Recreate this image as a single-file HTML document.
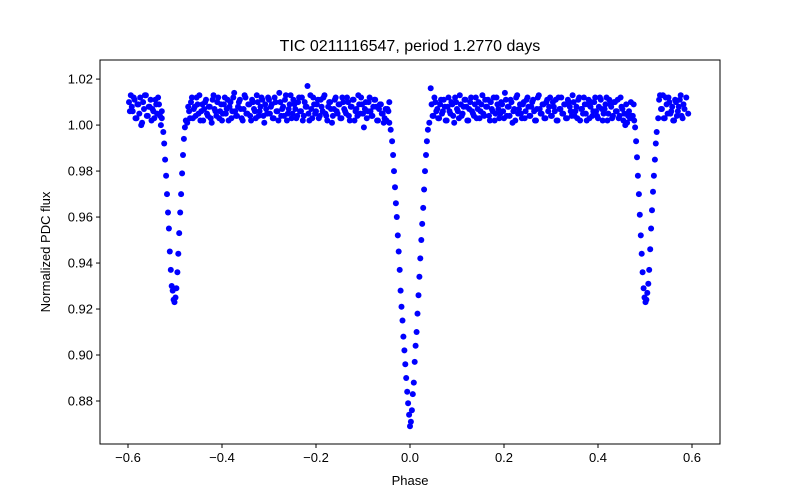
<!DOCTYPE html>
<html><head><meta charset="utf-8"><style>
body{margin:0;background:#fff;}
svg{display:block;font-family:"Liberation Sans","DejaVu Sans",sans-serif;}
</style></head><body>
<svg id="chart" width="800" height="500">
<rect x="0" y="0" width="800" height="500" fill="#fff"/>
<text x="410" y="51" text-anchor="middle" font-size="16">TIC 0211116547, period 1.2770 days</text>
<g id="points"></g>
<rect x="100" y="60" width="620" height="384" fill="none" stroke="#000" stroke-width="1"/>
<g id="xaxis"></g>
<g id="yaxis"></g>
<text x="410" y="485" text-anchor="middle" font-size="13">Phase</text>
<text transform="translate(50,252) rotate(-90)" text-anchor="middle" font-size="13">Normalized PDC flux</text>
</svg>
<script>
const xTicks=[-0.6,-0.4,-0.2,0.0,0.2,0.4,0.6];
const xTickLabels=["−0.6","−0.4","−0.2","0.0","0.2","0.4","0.6"];
const yTicks=[0.88,0.90,0.92,0.94,0.96,0.98,1.00,1.02];
const yTickLabels=["0.88","0.90","0.92","0.94","0.96","0.98","1.00","1.02"];
// out-of-eclipse phases and fluxes
const basePhase=[-0.598,-0.594,-0.590,-0.586,-0.582,-0.578,-0.574,-0.570,-0.566,-0.562,-0.558,-0.554,-0.550,-0.546,-0.542,-0.538,-0.534,-0.530,
-0.474,-0.470,-0.466,-0.462,-0.458,-0.454,-0.450,-0.446,-0.442,-0.438,-0.434,-0.430,-0.426,-0.422,-0.418,-0.414,-0.410,-0.406,-0.402,-0.398,-0.394,-0.390,-0.386,-0.382,-0.378,-0.374,-0.370,-0.366,-0.362,-0.358,-0.354,-0.350,-0.346,-0.342,-0.338,-0.334,-0.330,-0.326,-0.322,-0.318,-0.314,-0.310,-0.306,-0.302,-0.298,-0.294,-0.290,-0.286,-0.282,-0.278,-0.274,-0.270,-0.266,-0.262,-0.258,-0.254,-0.250,-0.246,-0.242,-0.238,-0.234,-0.230,-0.226,-0.222,-0.218,-0.214,-0.210,-0.206,-0.202,-0.198,-0.194,-0.190,-0.186,-0.182,-0.178,-0.174,-0.170,-0.166,-0.162,-0.158,-0.154,-0.150,-0.146,-0.142,-0.138,-0.134,-0.130,-0.126,-0.122,-0.118,-0.114,-0.110,-0.106,-0.102,-0.098,-0.094,-0.090,-0.086,-0.082,-0.078,-0.074,-0.070,-0.066,-0.062,-0.058,-0.054,-0.050,-0.046,
0.046,0.050,0.054,0.058,0.062,0.066,0.070,0.074,0.078,0.082,0.086,0.090,0.094,0.098,0.102,0.106,0.110,0.114,0.118,0.122,0.126,0.130,0.134,0.138,0.142,0.146,0.150,0.154,0.158,0.162,0.166,0.170,0.174,0.178,0.182,0.186,0.190,0.194,0.198,0.202,0.206,0.210,0.214,0.218,0.222,0.226,0.230,0.234,0.238,0.242,0.246,0.250,0.254,0.258,0.262,0.266,0.270,0.274,0.278,0.282,0.286,0.290,0.294,0.298,0.302,0.306,0.310,0.314,0.318,0.322,0.326,0.330,0.334,0.338,0.342,0.346,0.350,0.354,0.358,0.362,0.366,0.370,0.374,0.378,0.382,0.386,0.390,0.394,0.398,0.402,0.406,0.410,0.414,0.418,0.422,0.426,0.430,0.434,0.438,0.442,0.446,0.450,0.454,0.458,0.462,0.466,0.470,0.474,
0.530,0.534,0.538,0.542,0.546,0.550,0.554,0.558,0.562,0.566,0.570,0.574,0.578,0.582,0.586,0.590,0.594,0.598];
const baseFluxA=[1.010,1.013,1.006,1.011,1.003,1.009,1.012,1.001,1.007,1.013,1.004,1.008,1.002,1.006,1.011,1.005,1.009,1.000,
1.001,1.006,1.010,1.003,1.008,1.012,1.005,1.002,1.009,1.007,1.011,1.004,1.008,1.001,1.013,1.006,1.010,1.003,1.009,1.005,1.012,1.007,1.002,1.010,1.006,1.014,1.004,1.008,1.011,1.003,1.007,1.012,1.005,1.009,1.002,1.010,1.006,1.013,1.004,1.008,1.011,1.001,1.007,1.012,1.005,1.009,1.003,1.010,1.006,1.014,1.004,1.008,1.011,1.002,1.007,1.013,1.005,1.009,1.003,1.010,1.006,1.012,1.004,1.008,1.017,1.002,1.007,1.012,1.005,1.009,1.003,1.011,1.006,1.013,1.004,1.008,1.010,1.001,1.007,1.012,1.005,1.009,1.003,1.010,1.006,1.012,1.004,1.008,1.011,1.002,1.007,1.013,1.005,1.009,0.999,1.010,1.006,1.012,1.004,1.008,1.011,1.002,1.007,1.009,1.005,1.003,
1.002,1.006,1.009,1.004,1.010,1.007,1.003,1.011,1.006,1.008,1.002,1.012,1.005,1.009,1.001,1.010,1.006,1.013,1.004,1.008,1.011,1.002,1.007,1.012,1.005,1.009,1.003,1.010,1.006,1.013,1.004,1.008,1.011,1.002,1.007,1.012,1.005,1.009,1.003,1.010,1.006,1.014,1.004,1.008,1.011,1.001,1.007,1.012,1.005,1.009,1.003,1.010,1.006,1.012,1.004,1.008,1.011,1.002,1.007,1.013,1.005,1.009,1.003,1.010,1.006,1.012,1.004,1.008,1.011,1.002,1.007,1.012,1.005,1.009,1.003,1.010,1.006,1.013,1.004,1.008,1.011,1.002,1.007,1.012,1.005,1.009,1.003,1.010,1.006,1.012,1.004,1.008,1.011,1.002,1.007,1.012,1.005,1.009,1.003,1.010,1.006,1.011,1.004,1.008,1.002,1.000,
1.001,1.006,1.010,1.004,1.011,1.007,1.013,1.003,1.009,1.012,1.005,1.008,1.002,1.010,1.006,1.011,1.004,1.009];
const baseFluxB=[1.006,1.008,1.012,1.003,1.009,1.005,1.000,1.010,1.013,1.004,1.008,1.011,1.007,1.003,1.009,1.012,1.004,1.006,
1.008,1.003,1.012,1.007,1.004,1.009,1.013,1.006,1.002,1.010,1.005,1.008,1.003,1.011,1.007,1.004,1.012,1.006,1.002,1.009,1.005,1.011,1.008,1.003,1.012,1.006,1.004,1.010,1.007,1.002,1.013,1.005,1.009,1.004,1.011,1.007,1.003,1.010,1.006,1.012,1.004,1.009,1.005,1.011,1.008,1.003,1.012,1.006,1.002,1.010,1.007,1.004,1.013,1.005,1.009,1.003,1.011,1.007,1.004,1.012,1.006,1.002,1.010,1.008,1.005,1.013,1.003,1.009,1.006,1.011,1.004,1.008,1.012,1.005,1.002,1.010,1.007,1.004,1.011,1.006,1.009,1.003,1.012,1.007,1.005,1.010,1.002,1.008,1.011,1.006,1.004,1.009,1.012,1.005,1.007,1.003,1.010,1.006,1.004,1.011,1.008,1.002,1.009,1.005,1.001,1.007,
1.007,1.010,1.004,1.012,1.006,1.003,1.009,1.005,1.011,1.002,1.008,1.006,1.010,1.004,1.012,1.007,1.003,1.009,1.005,1.011,1.008,1.002,1.010,1.006,1.004,1.012,1.007,1.003,1.009,1.005,1.011,1.008,1.004,1.010,1.006,1.002,1.012,1.007,1.005,1.009,1.003,1.011,1.008,1.004,1.010,1.006,1.002,1.013,1.007,1.005,1.009,1.003,1.011,1.008,1.004,1.010,1.006,1.002,1.012,1.007,1.005,1.009,1.003,1.011,1.008,1.004,1.010,1.006,1.002,1.012,1.007,1.005,1.009,1.003,1.011,1.008,1.004,1.010,1.006,1.003,1.012,1.007,1.005,1.009,1.002,1.011,1.008,1.004,1.010,1.006,1.003,1.012,1.007,1.005,1.009,1.002,1.011,1.008,1.004,1.010,1.006,1.003,1.012,1.007,1.005,1.009,1.004,1.003,
1.004,1.009,1.013,1.007,1.003,1.012,1.005,1.010,1.006,1.002,1.011,1.004,1.008,1.013,1.003,1.007,1.012,1.005];
// eclipse points
const eclPhase=[-0.528,-0.525,-0.523,-0.521,-0.519,-0.517,-0.515,-0.513,-0.511,-0.509,-0.507,-0.505,-0.503,-0.501,-0.499,-0.497,-0.495,-0.493,-0.491,-0.489,-0.487,-0.485,-0.483,-0.481,-0.479,-0.477,
-0.044,-0.041,-0.038,-0.036,-0.034,-0.032,-0.030,-0.028,-0.026,-0.024,-0.022,-0.020,-0.018,-0.016,-0.014,-0.012,-0.010,-0.008,-0.006,-0.004,-0.002,0.000,0.002,0.004,0.006,0.008,0.010,0.012,0.014,0.016,0.018,0.020,0.022,0.024,0.026,0.028,0.030,0.032,0.034,0.036,0.038,0.041,0.044,
0.477,0.479,0.481,0.483,0.485,0.487,0.489,0.491,0.493,0.495,0.497,0.499,0.501,0.503,0.505,0.507,0.509,0.511,0.513,0.515,0.517,0.519,0.521,0.523,0.525,0.528];
const eclFlux=[1.003,0.997,0.992,0.985,0.978,0.970,0.962,0.955,0.945,0.937,0.930,0.928,0.924,0.923,0.925,0.929,0.936,0.944,0.953,0.962,0.970,0.979,0.987,0.994,0.999,1.002,
1.001,0.998,0.993,0.987,0.980,0.973,0.966,0.960,0.952,0.945,0.937,0.928,0.921,0.915,0.908,0.902,0.896,0.890,0.884,0.879,0.874,0.869,0.871,0.876,0.883,0.888,0.897,0.904,0.910,0.918,0.926,0.934,0.942,0.950,0.957,0.964,0.972,0.980,0.987,0.993,0.998,1.001,1.016,
1.002,0.999,0.993,0.986,0.978,0.970,0.961,0.952,0.944,0.936,0.929,0.925,0.923,0.924,0.927,0.931,0.937,0.946,0.955,0.963,0.971,0.978,0.985,0.992,0.997,1.003];

const X0=100,X1=720,Y0=60,Y1=444;
const xMin=-0.6596,xMax=0.6596,yMin=0.8613,yMax=1.0283;
function xs(v){return X0+(v-xMin)/(xMax-xMin)*(X1-X0);}
function ys(v){return Y1-(v-yMin)/(yMax-yMin)*(Y1-Y0);}
const NS="http://www.w3.org/2000/svg";
const pg=document.getElementById('points');
function dot(p,f){
  if(p===undefined||f===undefined)return;
  const c=document.createElementNS(NS,'circle');
  c.setAttribute('cx',xs(p).toFixed(1));c.setAttribute('cy',ys(f).toFixed(1));
  c.setAttribute('r','3');c.setAttribute('fill','#0000ff');
  
  
  pg.appendChild(c);
}
basePhase.forEach((p,i)=>{dot(p,baseFluxA[i]);dot(p+0.002,baseFluxB[i]);});
eclPhase.forEach((p,i)=>dot(p,eclFlux[i]));

const xg=document.getElementById('xaxis');
xTicks.forEach((t,i)=>{
  const x=xs(t);
  const l=document.createElementNS(NS,'line');
  l.setAttribute('x1',x);l.setAttribute('x2',x);l.setAttribute('y1',Y1);l.setAttribute('y2',Y1+4);l.setAttribute('stroke','#000');
  
  
  xg.appendChild(l);
  const tx=document.createElementNS(NS,'text');
  tx.setAttribute('x',x);tx.setAttribute('y',Y1+18);tx.setAttribute('text-anchor','middle');tx.setAttribute('font-size','13');
  tx.textContent=xTickLabels[i];
  
  
  xg.appendChild(tx);
});
const yg=document.getElementById('yaxis');
yTicks.forEach((t,i)=>{
  const y=ys(t);
  const l=document.createElementNS(NS,'line');
  l.setAttribute('x1',X0-4);l.setAttribute('x2',X0);l.setAttribute('y1',y);l.setAttribute('y2',y);l.setAttribute('stroke','#000');
  
  
  yg.appendChild(l);
  const tx=document.createElementNS(NS,'text');
  tx.setAttribute('x',X0-7);tx.setAttribute('y',y+4.5);tx.setAttribute('text-anchor','end');tx.setAttribute('font-size','13');
  tx.textContent=yTickLabels[i];
  
  
  yg.appendChild(tx);
});
</script>
</body></html>
